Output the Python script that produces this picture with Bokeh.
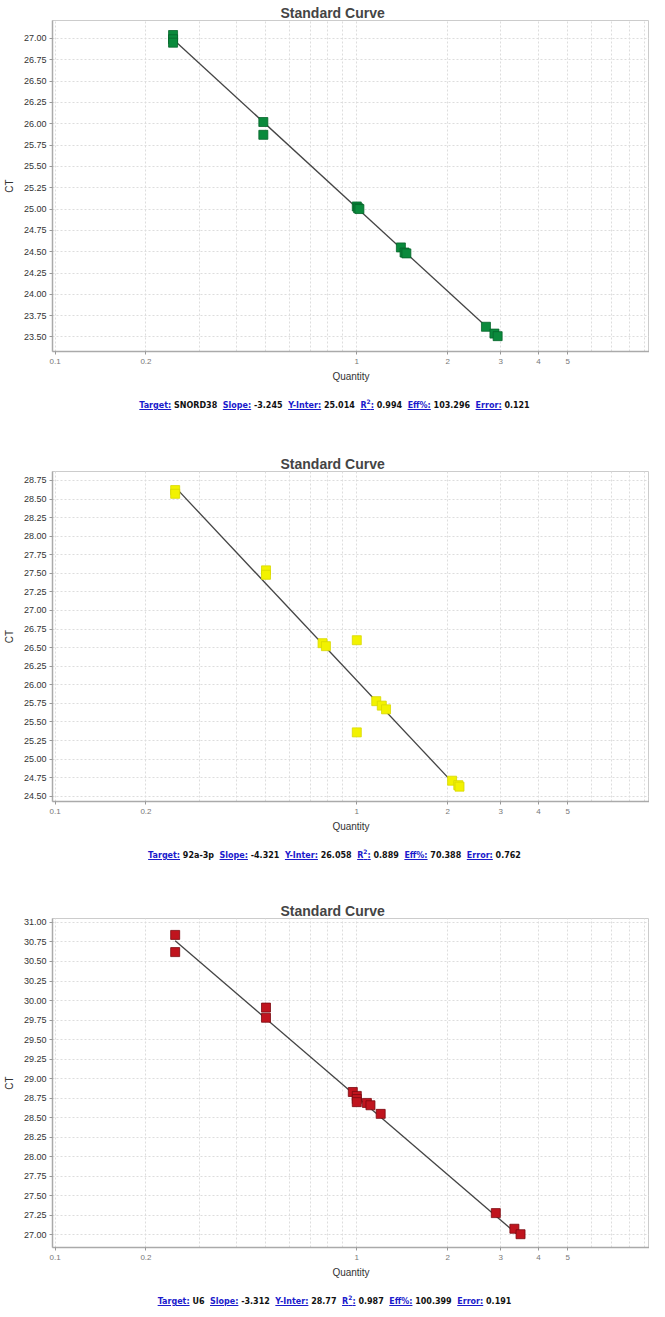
from bokeh.plotting import figure
from bokeh.models import Range1d, FixedTicker, SingleIntervalTicker, NumeralTickFormatter, CustomJSTickFormatter, Div
from bokeh.layouts import column
from bokeh.embed import file_html
from bokeh.resources import INLINE
import numpy as np

TITLE = "Standard Curve"
X_LABEL = "Quantity"
Y_LABEL = "CT"
X_TICKS = [0.1, 0.2, 1, 2, 3, 4, 5, 10]
X_MINOR = [0.3, 0.4, 0.5, 0.6, 0.7, 0.8, 0.9, 6, 7, 8, 9]

# Panel 1: SNORD38
snord_qty = [0.246, 0.246, 0.246, 0.49, 0.49, 1.00, 1.01, 1.02, 1.40, 1.44, 1.46, 2.68, 2.86, 2.93]
snord_ct = [27.04, 26.99, 26.95, 26.02, 25.87, 25.03, 25.01, 25.00, 24.55, 24.49, 24.48, 23.62, 23.54, 23.51]
snord_stats = dict(target="SNORD38", slope=-3.245, inter=25.014, r2=0.994, eff=103.296, err=0.121)

# Panel 2: 92a-3p
mir_qty = [0.25, 0.25, 0.50, 0.50, 0.77, 0.79, 1.00, 1.00, 1.16, 1.21, 1.25, 2.07, 2.17, 2.19]
mir_ct = [28.62, 28.57, 27.54, 27.48, 26.56, 26.52, 26.60, 25.36, 25.78, 25.72, 25.67, 24.71, 24.65, 24.63]
mir_stats = dict(target="92a-3p", slope=-4.321, inter=26.058, r2=0.889, eff=70.388, err=0.762)

# Panel 3: U6
u6_qty = [0.25, 0.25, 0.50, 0.50, 0.97, 1.00, 1.00, 1.00, 1.08, 1.11, 1.20, 2.89, 3.33, 3.49]
u6_ct = [30.84, 30.62, 29.91, 29.78, 28.83, 28.78, 28.74, 28.70, 28.69, 28.66, 28.55, 27.28, 27.08, 27.01]
u6_stats = dict(target="U6", slope=-3.312, inter=28.77, r2=0.987, eff=100.399, err=0.191)

COLORS = ["#0a8a3c", "#f2f200", "#c0141e"]
EDGES = ["#06652b", "#d8d800", "#7a0a10"]
Y_RANGES = [(23.33, 27.21), (24.43, 28.87), (26.84, 31.05)]
FRAME_H = [334, 333, 332]
DIV_H = [67, 64, 21]

W = 649


def make_fig(qty, ct, stats, color, edge, yr, fh):
    p = figure(width=W, height=20 + fh + 30, x_axis_type="log",
               x_range=Range1d(0.098, 9.34), y_range=Range1d(*yr),
               output_backend="svg", toolbar_location=None,
               min_border_left=47, min_border_right=0, min_border_top=20, min_border_bottom=30)
    p.title.text = TITLE
    p.title.text_font = "Liberation Sans"
    p.title.text_font_size = "14px"
    p.title.text_font_style = "bold"
    p.title.align = "left"
    p.title.offset = 228
    p.title.standoff = 0
    p.outline_line_color = "#cccccc"
    p.background_fill_color = "white"
    p.border_fill_color = "white"

    p.xaxis.ticker = FixedTicker(ticks=X_TICKS, minor_ticks=X_MINOR)
    p.xaxis.formatter = CustomJSTickFormatter(code="return tick.toString()")
    p.yaxis.ticker = SingleIntervalTicker(interval=0.25)
    p.yaxis.formatter = NumeralTickFormatter(format="0.00")

    for ax in (p.xaxis, p.yaxis):
        ax.axis_line_color = "#aaaaaa"
        ax.axis_line_width = 1.5
        ax.major_tick_line_color = "#999999"
        ax.major_tick_in = 0
        ax.major_tick_out = 3
        ax.minor_tick_line_color = None
        ax.major_label_text_font = "Liberation Sans"
        ax.axis_label_text_font = "Liberation Sans"
        ax.axis_label_text_font_style = "normal"
        ax.axis_label_text_font_size = "10px"
        ax.axis_label_text_color = "#333333"
    p.xaxis.major_label_text_font_size = "8px"
    p.xaxis.major_label_text_color = "#777777"
    p.xaxis.major_label_standoff = 3
    p.xaxis.axis_label = X_LABEL
    p.xaxis.axis_label_standoff = 4
    p.yaxis.major_label_text_font_size = "9px"
    p.yaxis.major_label_text_color = "#333333"
    p.yaxis.major_label_standoff = 2
    p.yaxis.axis_label = Y_LABEL
    p.yaxis.axis_label_standoff = 6

    p.xgrid.grid_line_color = "#dddddd"
    p.xgrid.grid_line_dash = "2 2"
    p.xgrid.minor_grid_line_color = "#dddddd"
    p.xgrid.minor_grid_line_dash = "2 2"
    p.ygrid.grid_line_color = "#dddddd"
    p.ygrid.grid_line_dash = "2 2"

    qmin, qmax = min(qty), max(qty)
    lx = [qmin, qmax]
    ly = [stats["inter"] + stats["slope"] * np.log10(v) for v in lx]
    p.line(lx, ly, line_color="#444444", line_width=1.3)
    p.scatter(qty, ct, marker="square", size=9, fill_color=color, line_color=edge, line_width=0.8)
    return p


def make_div(stats, h):
    k = "color:#1a1acc;text-decoration:underline;"
    def key(t):
        return f'<span style="{k}">{t}</span>'
    sp = "&nbsp;&nbsp;"
    inner = (f'{key("Target:")} {stats["target"]}{sp}{key("Slope:")} {stats["slope"]}{sp}'
             f'{key("Y-Inter:")} {stats["inter"]}{sp}{key("R<sup style=\"font-size:6px\">2</sup>:")} {stats["r2"]}{sp}'
             f'{key("Eff%:")} {stats["eff"]}{sp}{key("Error:")} {stats["err"]}')
    html = ('<span style="display:inline-block;margin-top:13px;margin-left:20px;white-space:nowrap;'
            'line-height:10px;">' + inner + '</span>')
    return Div(text=html, width=W, height=h, margin=0,
               styles={"overflow": "visible", "text-align": "center",
                       "font-family": "DejaVu Sans", "font-size": "8px",
                       "font-weight": "bold", "color": "#111111"})


items = []
data = [(snord_qty, snord_ct, snord_stats), (mir_qty, mir_ct, mir_stats), (u6_qty, u6_ct, u6_stats)]
for i, (q, c, s) in enumerate(data):
    f = make_fig(q, c, s, COLORS[i], EDGES[i], Y_RANGES[i], FRAME_H[i])
    f.margin = 0
    items.append(f)
    items.append(make_div(s, DIV_H[i]))

layout = column(*items, spacing=0, margin=0)
open("out.html", "w").write(file_html(layout, INLINE))
